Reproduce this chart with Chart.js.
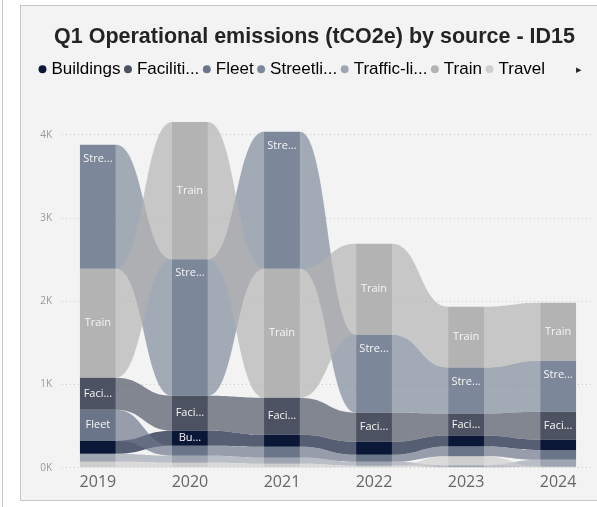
<!DOCTYPE html>
<html>
<head>
<meta charset="utf-8">
<script src="https://cdn.jsdelivr.net/npm/chart.js@4.4.1/dist/chart.umd.min.js"></script>
<style>
  html, body { margin: 0; padding: 0; background: #fff; overflow: hidden; width: 597px; height: 507px; }
  #edge { position: absolute; left: 2px; top: 0; width: 1px; height: 507px; background: #c9c9c9; }
  #card { position: absolute; left: 20px; top: 5px; width: 600px; height: 494px; background: #f3f3f3;
          border: 1px solid #c8c8c8; border-right: none; }
  #wrap { position: absolute; left: 0; top: 0; width: 589px; height: 494px; }
  #more { position: absolute; left: 555px; top: 57px; font: 11px 'DejaVu Sans'; color: #252423; }
</style>
</head>
<body>
<div id="edge"></div>
<div id="card">
  <div id="wrap"><canvas id="ribbon-chart"></canvas></div>
  <div id="more">&#9656;</div>
</div>
<script>
// Q1 operational emissions (tCO2e) per source
const years = ['2019', '2020', '2021', '2022', '2023', '2024'];
const sources = ['Buildings', 'Facilities', 'Fleet', 'Streetlights', 'Traffic-lights', 'Train', 'Travel'];
const legendText = ['Buildings', 'Faciliti...', 'Fleet', 'Streetli...', 'Traffic-li...', 'Train', 'Travel'];
const shortLabels = ['Bu...', 'Faci...', 'Fleet', 'Stre...', 'Traf...', 'Train', 'Tra...'];

const buildings     = [156, 180, 144, 156, 132, 122];
const facilities    = [385, 420, 444, 348, 264, 336];
const fleet         = [372, 120, 132, 84, 115, 118];
const streetlights  = [1490, 1640, 1646, 937, 553, 613];
const trafficLights = [96, 84, 72, 48, 30, 84];
const train         = [1310, 1650, 1550, 1093, 730, 697];
const travel        = [72, 60, 48, 24, 110, 12];

const yTicks = [0, 1000, 2000, 3000, 4000];

const seriesValues = [buildings, facilities, fleet, streetlights, trafficLights, train, travel];
const colors = ['#0b1736', '#4d5262', '#6b7589', '#7c8799', '#9fa5b1', '#b3b3b3', '#cfcfcf'];

function withAlpha(hex, a) {
    const n = parseInt(hex.slice(1), 16);
    return `rgba(${n >> 16}, ${(n >> 8) & 255}, ${n & 255}, ${a})`;
}
const ribbonColors = colors.map(c => withAlpha(c, 0.68));

// Ribbon chart: in each year the biggest source sits on top
const ranges = seriesValues.map(() => []);
years.forEach((y, i) => {
    const order = seriesValues.map((v, s) => s).sort((a, b) => seriesValues[a][i] - seriesValues[b][i]);
    let base = 0;
    order.forEach(s => {
        ranges[s][i] = [base, base + seriesValues[s][i]];
        base += seriesValues[s][i];
    });
});

const datasets = sources.map((name, s) => ({
    label: name,
    data: years.map((y, i) => ({ x: i, y: ranges[s][i] })),
    backgroundColor: colors[s],
    borderWidth: 0,
    grouped: false,
    categoryPercentage: 1,
    barPercentage: 0.39
}));

const ribbonPlugin = {
    id: 'ribbons',
    beforeDatasetsDraw(chart) {
        const ctx = chart.ctx;
        ctx.save();
        chart.data.datasets.forEach((ds, s) => {
            const bars = chart.getDatasetMeta(s).data;
            ctx.fillStyle = ribbonColors[s];
            for (let i = 0; i < bars.length - 1; i++) {
                const a = bars[i].getProps(['x', 'y', 'base', 'width'], true);
                const b = bars[i + 1].getProps(['x', 'y', 'base', 'width'], true);
                const x0 = a.x + a.width / 2, x1 = b.x - b.width / 2, mx = (x0 + x1) / 2;
                ctx.beginPath();
                ctx.moveTo(x0, a.y);
                ctx.bezierCurveTo(mx, a.y, mx, b.y, x1, b.y);
                ctx.lineTo(x1, b.base);
                ctx.bezierCurveTo(mx, b.base, mx, a.base, x0, a.base);
                ctx.closePath();
                ctx.fill();
            }
        });
        ctx.restore();
    }
};

const labelPlugin = {
    id: 'segmentLabels',
    afterDatasetsDraw(chart) {
        const ctx = chart.ctx;
        ctx.save();
        ctx.font = "11px 'Open Sans'";
        ctx.fillStyle = '#f6f6f6';
        ctx.textAlign = 'center';
        ctx.textBaseline = 'middle';
        chart.data.datasets.forEach((ds, s) => {
            chart.getDatasetMeta(s).data.forEach(bar => {
                const { x, y, base } = bar.getProps(['x', 'y', 'base'], true);
                if (base - y < 14) return;
                const ty = sources[s] === 'Streetlights' ? y + 14 : (y + base) / 2;
                ctx.fillText(shortLabels[s], x, ty);
            });
        });
        ctx.restore();
    }
};

// leave room under the legend, like the Power BI visual
const legendSpacer = {
    id: 'legendSpacer',
    beforeInit(chart) {
        const fit = chart.legend.fit;
        chart.legend.fit = function () {
            fit.bind(chart.legend)();
            this.height = 56;
        };
    }
};

new Chart(document.getElementById('ribbon-chart'), {
    type: 'bar',
    data: { datasets: datasets },
    plugins: [ribbonPlugin, labelPlugin, legendSpacer],
    options: {
        responsive: true,
        maintainAspectRatio: false,
        animation: false,
        layout: { padding: { left: 14, right: 16, top: 0, bottom: 3 } },
        scales: {
            x: {
                type: 'linear',
                offset: false,
                min: -0.39,
                max: 5.39,
                afterBuildTicks: scale => { scale.ticks = years.map((y, i) => ({ value: i })); },
                ticks: {
                    callback: v => years[v],
                    color: '#666666',
                    font: { family: 'Open Sans', size: 16 },
                    padding: 5,
                    maxRotation: 0
                },
                grid: { display: false, drawTicks: false, offset: false },
                border: { display: false }
            },
            y: {
                min: 0,
                max: 4300,
                afterBuildTicks: scale => { scale.ticks = yTicks.map(v => ({ value: v })); },
                afterFit: scale => { scale.width = 27; },
                ticks: {
                    callback: v => (v / 1000) + 'K',
                    color: '#999999',
                    font: { family: 'Open Sans', size: 10 },
                    padding: 10
                },
                grid: { color: '#c9c9c9', lineWidth: 1, drawTicks: false },
                border: { display: false, dash: [1, 3] }
            }
        },
        plugins: {
            title: {
                display: true,
                text: 'Q1 Operational emissions (tCO2e) by source - ID15',
                color: '#252423',
                font: { family: 'Liberation Sans', size: 21.5, weight: 'bold' },
                padding: { top: 18, bottom: 4 }
            },
            legend: {
                align: 'start',
                labels: {
                    usePointStyle: true,
                    pointStyle: 'circle',
                    boxWidth: 1,
                    boxHeight: 5.6,
                    padding: 7,
                    color: '#555555',
                    font: { family: 'Liberation Sans', size: 17 },
                    generateLabels: chart => sources.map((name, s) => ({
                        text: legendText[s],
                        fillStyle: colors[s],
                        strokeStyle: colors[s],
                        lineWidth: 0,
                        pointStyle: 'circle',
                        hidden: false,
                        datasetIndex: s
                    }))
                }
            },
            tooltip: { enabled: false }
        }
    }
});
</script>
</body>
</html>
